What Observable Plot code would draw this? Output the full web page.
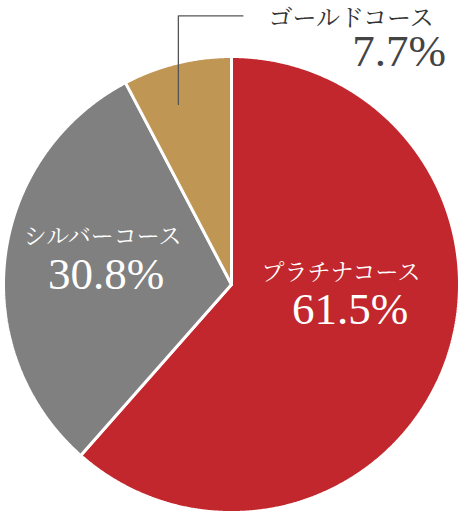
<!DOCTYPE html>
<html><head><meta charset="utf-8">
<script src="https://cdn.jsdelivr.net/npm/d3@7"></script>
<script src="https://cdn.jsdelivr.net/npm/@observablehq/plot@0.6"></script>
<style>
html,body{margin:0;padding:0;background:#fff;}
#chart{width:462px;height:516px;}
</style>
</head><body><div id="chart"></div>
<script>
const categories = ["プラチナコース", "シルバーコース", "ゴールドコース"];
const values = [61.5, 30.8, 7.7];
const percentLabels = ["61.5%", "30.8%", "7.7%"];
const colors = ["#c1272d", "#808080", "#c09654"];

// layout (unit-circle coordinates, radius = 1)
const W = 462, H = 516, cx = 231, cy = 284, R = 228;
const nameFont = "'Noto Serif CJK JP','Noto Sans CJK JP',serif";
const numFont = "'Liberation Serif','DejaVu Serif',serif";
const labelPos = [
  {name: [0.48, 0.052], pct: [0.52, -0.11], nameFill: "#fff", pctFill: "#fff", nameSize: 23},
  {name: [-0.565, 0.21], pct: [-0.55, 0.045], nameFill: "#fff", pctFill: "#fff", nameSize: 23},
  {name: [0.525, 1.168], pct: [0.735, 1.02], nameFill: "#333", pctFill: "#444", nameSize: 24}
];
const leader = [[-0.233, 0.79], [-0.233, 1.178], [0.05, 1.178]];

const arcs = d3.pie().sort(null).value(d => d)(values);
const slices = [];
arcs.forEach((a, i) => {
  slices.push({k: categories[i], x: 0, y: 0});
  const n = Math.max(2, Math.ceil((a.endAngle - a.startAngle) / 0.005));
  for (let j = 0; j <= n; j++) {
    const t = a.startAngle + (a.endAngle - a.startAngle) * j / n;
    slices.push({k: categories[i], x: Math.sin(t), y: Math.cos(t)});
  }
  slices.push({k: categories[i], x: 0, y: 0});
});

const names = categories.map((c, i) => ({t: c, x: labelPos[i].name[0], y: labelPos[i].name[1], f: labelPos[i].nameFill, s: labelPos[i].nameSize}));
const pcts = percentLabels.map((c, i) => ({t: c, x: labelPos[i].pct[0], y: labelPos[i].pct[1], f: labelPos[i].pctFill}));
const leaderData = leader.map(([x, y]) => ({x, y}));

const plot = Plot.plot({
  width: W, height: H,
  margin: 0,
  x: {domain: [-cx / R, (W - cx) / R], range: [0, W], axis: null},
  y: {domain: [-(H - cy) / R, cy / R], range: [H, 0], axis: null},
  color: {domain: categories, range: colors},
  style: {background: "#fff"},
  marks: [
    Plot.line(slices, {x: "x", y: "y", z: "k", fill: "k", stroke: "#fff", strokeWidth: 3, strokeLinejoin: "miter", curve: "linear"}),
    Plot.line(leaderData, {x: "x", y: "y", stroke: "#555", strokeWidth: 1.3}),
    Plot.text(names, {x: "x", y: "y", text: "t", fill: d => d.f, fontSize: d => d.s, fontFamily: nameFont, textAnchor: "middle", lineAnchor: "middle"}),
    Plot.text(pcts, {x: "x", y: "y", text: "t", fill: d => d.f, fontSize: 45, fontFamily: numFont, textAnchor: "middle", lineAnchor: "middle"})
  ]
});
document.getElementById("chart").appendChild(plot);
</script>
</body></html>
